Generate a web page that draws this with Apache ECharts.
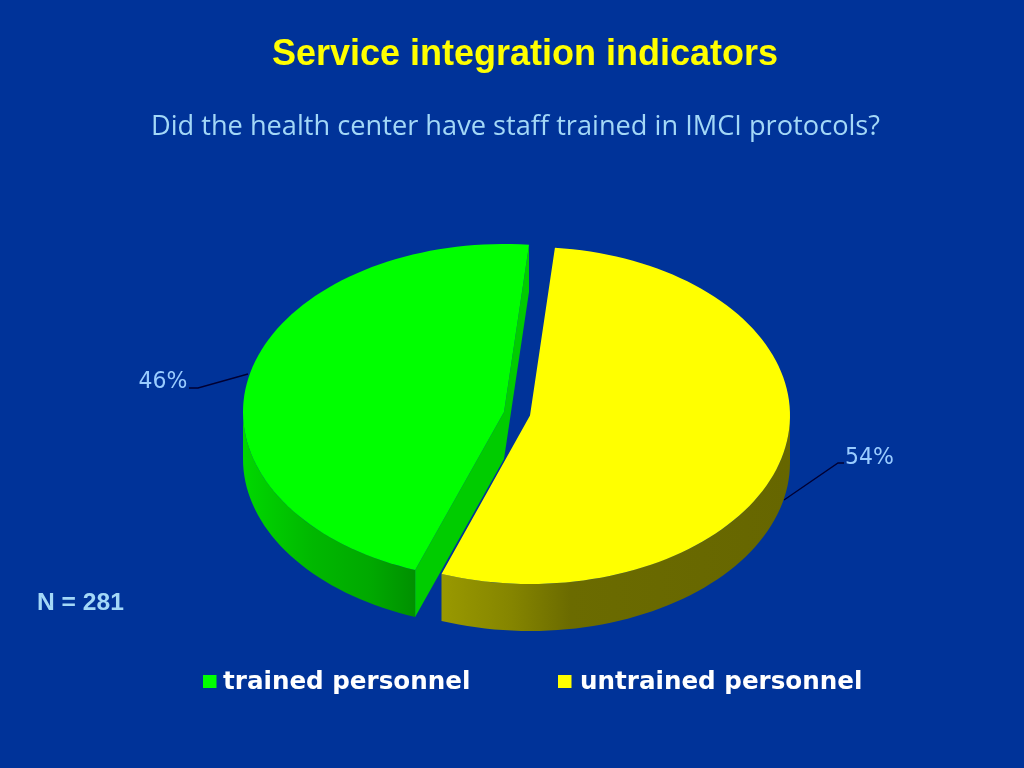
<!DOCTYPE html>
<html><head><meta charset="utf-8">
<style>html,body{margin:0;padding:0;background:#003399}#c{width:1024px;height:768px}</style>
<script src="https://cdn.jsdelivr.net/npm/echarts@6/dist/echarts.min.js"></script>
</head><body><div id="c"></div>
<script>
const categories = ['trained personnel', 'untrained personnel'];
const values = [46, 54];
const labels = ['46%', '54%'];
const topColors = ['#00ff00', '#ffff00'];
const sideStops = [
  [[0,'#00d800'],[0.4,'#00b800'],[0.75,'#00a800'],[1,'#009000']],
  [[0,'#999900'],[0.2,'#858500'],[0.37,'#6b6b00'],[1,'#666600']]
];
const cutColors = ['#00cc00', null];
const startAngle = 5.5;
const total = values.reduce((a,b)=>a+b,0);
const spans = values.map(v => v/total*360);
const ranges = [[startAngle+spans[1], startAngle+360],[startAngle, startAngle+spans[1]]];
const centers = [[504,412],[530,415.5]];
const RX = [261,260], RY = [168,168.5], DEPTH = 47;

function pt(c,i,deg,dy){const t=deg*Math.PI/180;return [c[0]+RX[i]*Math.sin(t), c[1]-RY[i]*Math.cos(t)+(dy||0)];}
function arc(c,i,a,b,dy){const p=[];const n=Math.max(2,Math.ceil(Math.abs(b-a)/2));for(let k=0;k<=n;k++)p.push(pt(c,i,a+(b-a)*k/n,dy));return p;}

function render(i){
  return function(){
    const c=centers[i],[a,b]=ranges[i];
    const children=[];
    const wa=Math.max(a,90), wb=Math.min(b,270);
    if(wb>wa){
      const top=arc(c,i,wa,wb,0), bot=arc(c,i,wb,wa,DEPTH);
      children.push({type:'polygon',shape:{points:top.concat(bot)},style:{fill:new echarts.graphic.LinearGradient(0,0,1,0,sideStops[i].map(s=>({offset:s[0],color:s[1]})))}});
    }
    if(cutColors[i]){
      [a,b].forEach(ang=>{
        const e=pt(c,i,ang,0);
        children.push({type:'polygon',shape:{points:[c,e,[e[0],e[1]+DEPTH],[c[0],c[1]+DEPTH]]},style:{fill:cutColors[i]}});
      });
    }
    children.push({type:'polygon',shape:{points:[c].concat(arc(c,i,a,b,0))},style:{fill:topColors[i]}});
    return {type:'group',children};
  };
}

const leaderLines=[[[189,388],[198,388],[248,374]],[[784,500],[838,463],[844,463]]];
const labelPos=[[163,382],[869.5,458]];

const option={
  backgroundColor:'#003399',
  animation:false,
  title:[
    {text:'Service integration indicators',left:520,top:32,textAlign:'center',textStyle:{color:'#ffff00',fontFamily:'Liberation Sans',fontWeight:'bold',fontSize:36}},
    {text:'Did the health center have staff trained in IMCI protocols?',left:510.5,top:109,textAlign:'center',textStyle:{color:'#a3d8f7',fontFamily:'Open Sans',fontWeight:'normal',fontSize:27.2}},
    {text:'N = 281',left:32,top:586,textStyle:{color:'#a3d8f7',fontFamily:'Liberation Sans',fontWeight:'bold',fontSize:24.6}}
  ],
  xAxis:{show:false},yAxis:{show:false},
  series:[
    {type:'custom',name:categories[1],coordinateSystem:'none',data:[values[1]],color:topColors[1],renderItem:render(1),silent:true,z:2},
    {type:'custom',name:categories[0],coordinateSystem:'none',data:[values[0]],color:topColors[0],renderItem:render(0),silent:true,z:3}
  ]
};
option.graphic=[
  ...leaderLines.map(l=>({type:'polyline',shape:{points:l},style:{stroke:'#000033',lineWidth:1.3,fill:null}})),
  ...labels.map((t,i)=>({type:'text',x:labelPos[i][0],y:labelPos[i][1],scaleY:1.08,style:{text:t,fill:'#99ccff',font:'22px "DejaVu Sans"',textAlign:'center',textVerticalAlign:'middle'}})),
  ...categories.map((t,i)=>({type:'group',children:[
    {type:'rect',shape:{x:[203,558][i],y:675,width:13.5,height:13},style:{fill:topColors[i]}},
    {type:'text',x:[223,580][i],y:683,style:{text:t,fill:'#ffffff',font:'bold 24.6px "DejaVu Sans"',textAlign:'left',textVerticalAlign:'middle'}}
  ]}))
];
const chart=echarts.init(document.getElementById('c'),null,{renderer:'canvas'});
chart.setOption(option);
</script></body></html>
